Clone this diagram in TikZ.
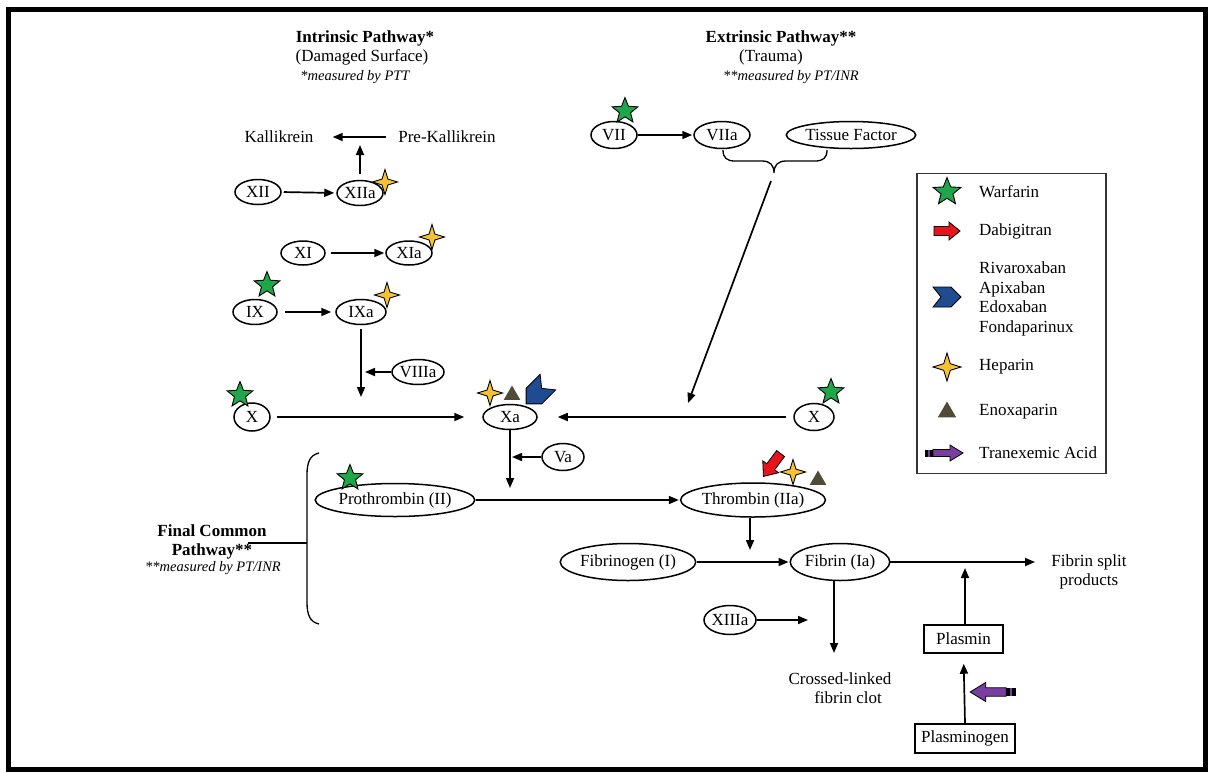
\documentclass[tikz,border=0pt]{standalone}
\usepackage{fontspec}
\setmainfont{Liberation Serif}
\usetikzlibrary{shapes.geometric,arrows.meta}
\definecolor{warfgreen}{HTML}{1FA64A}
\definecolor{hepyellow}{HTML}{F7C232}
\definecolor{enoxolive}{HTML}{4F4B36}
\definecolor{chevblue}{HTML}{1F4C90}
\definecolor{dabred}{HTML}{E8141C}
\definecolor{txapurple}{HTML}{7A3DA2}
\newcommand\mfont{\fontsize{17}{19.5}\selectfont}
\newcommand\ifont{\fontsize{14.5}{17}\selectfont\itshape}
\begin{document}
\begin{tikzpicture}[x=1pt,y=-1pt]
\tikzset{
 ell/.style={ellipse, draw, line width=1.5pt, inner sep=0pt, font=\mfont},
 bx/.style={rectangle, draw, line width=1.5pt, inner sep=0pt, font=\mfont},
 lbl/.style={inner sep=0pt, font=\mfont, align=center},
 ilbl/.style={inner sep=0pt, font=\ifont, align=center},
 con/.style={line width=1.7pt, -{Triangle[length=10pt,width=8pt]}},
 warf/.style={star, star points=5, star point ratio=2.3, minimum size=27pt, inner sep=0pt, draw, line width=0.9pt, fill=warfgreen},
 hep/.style={star, star points=4, star point ratio=3.0, minimum size=25pt, inner sep=0pt, draw, line width=0.9pt, fill=hepyellow},
 enox/.style={regular polygon, regular polygon sides=3, minimum size=19pt, inner sep=0pt, fill=enoxolive},
 dab/.pic={\filldraw[fill=dabred, line width=0.8pt] (-13,-4.5) -- (2,-4.5) -- (2,-9) -- (13,0) -- (2,9) -- (2,4.5) -- (-13,4.5) -- cycle;},
 chev/.pic={\filldraw[fill=chevblue, line width=0.8pt] (-14,-10) -- (4,-10) -- (14,0) -- (4,10) -- (-14,10) -- (-6,0) -- cycle;},
 txa/.pic={\fill[black] (-19,-3.5) rectangle (-11,3.5);
   \fill[txapurple] (-16,-3.5) rectangle (-14.5,3.5);
   \filldraw[fill=txapurple, line width=0.8pt] (-11,-3.5) -- (6,-3.5) -- (6,-8) -- (19,0) -- (6,8) -- (6,3.5) -- (-11,3.5) -- cycle;},
}
\useasboundingbox (0,0) rectangle (1213,772);
\draw[line width=5pt] (8.5,9) rectangle (1205.5,769.5);

% headers
\node[lbl, font=\mfont\bfseries] (ih1) at (365,38) {Intrinsic Pathway*};
\node[lbl] (ih2) at (362,57) {(Damaged Surface)};
\node[ilbl] (ih3) at (355,77) {*measured by PTT};
\node[lbl, font=\mfont\bfseries] (eh1) at (781,38) {Extrinsic Pathway**};
\node[lbl] (eh2) at (771,57) {(Trauma)};
\node[ilbl] (eh3) at (791,77) {**measured by PT/INR};

% intrinsic
\node[lbl] (kal) at (279,137) {Kallikrein};
\node[lbl] (prek) at (447,137) {Pre-Kallikrein};
\coordinate (kl) at (360,137);
\node[ell, minimum width=46pt, minimum height=25pt] (xii) at (258,192) {XII};
\node[ell, minimum width=46pt, minimum height=25pt] (xiia) at (360,193) {XIIa};
\node[ell, minimum width=44pt, minimum height=24pt] (xi) at (303,253) {XI};
\node[ell, minimum width=46pt, minimum height=24pt] (xia) at (409,253) {XIa};
\node[ell, minimum width=44pt, minimum height=25pt] (ix) at (255,312) {IX};
\node[ell, minimum width=50pt, minimum height=25pt] (ixa) at (361,312) {IXa};
\node[ell, minimum width=52pt, minimum height=25pt] (viiia) at (418,372) {VIIIa};
\node[ell, minimum width=36pt, minimum height=28pt] (xl) at (252,417) {X};
\node[ell, minimum width=54pt, minimum height=25pt] (xa) at (510,417) {Xa};
\node[ell, minimum width=40pt, minimum height=27pt] (xr) at (814,417) {X};
\node[ell, minimum width=42pt, minimum height=27pt] (va) at (563,457) {Va};

% extrinsic
\node[ell, minimum width=46pt, minimum height=27pt] (vii) at (614,135) {VII};
\node[ell, minimum width=56pt, minimum height=27pt] (viia) at (722,135) {VIIa};
\node[ell, minimum width=114pt, minimum height=27pt] (tf) at (851,135) {Tissue Factor};

% common
\node[ell, minimum width=128pt, minimum height=33pt] (pro) at (395,500) {Prothrombin (II)};
\node[ell, minimum width=134pt, minimum height=34pt] (thr) at (753,500) {Thrombin (IIa)};
\node[ell, minimum width=134pt, minimum height=37pt] (fbg) at (628,562) {Fibrinogen (I)};
\node[ell, minimum width=90pt, minimum height=37pt] (fbn) at (840,562) {Fibrin (Ia)};
\node[ell, minimum width=46pt, minimum height=29pt] (xiiia) at (730,620) {XIIIa};
\node[lbl] (clot) at (840,688) {Crossed-linked\\\hspace*{16pt}fibrin clot};
\node[lbl] (fsp) at (1089,572) {Fibrin split\\products};
\node[bx, minimum width=79pt, minimum height=28pt] (plasmin) at (963.5,639) {Plasmin};
\node[bx, minimum width=100pt, minimum height=29pt] (plg) at (965,738.5) {Plasminogen};

\node[lbl, font=\mfont\bfseries] (fcp) at (212,542) {Final Common\\Pathway**};
\node[ilbl] (fcp2) at (213,568) {**measured by PT/INR};

% junction coordinates
\coordinate (j1) at (361,397);
\coordinate (j2) at (361,372);
\coordinate (j3) at (510,488);
\coordinate (j4) at (510,457);
\coordinate (j5) at (750,550);
\coordinate (j6) at (834,653);
\coordinate (j7) at (808,620);
\coordinate (j8) at (1035,562);
\coordinate (j9) at (965,568);
\coordinate (brtip) at (771,181);
\coordinate (brhit) at (688,403);
\coordinate (fcpl) at (248,543);
\coordinate (fcpb) at (307,543);

% connectors
\draw[con, shorten <=12pt, shorten >=19pt] (prek.west) -- (kal.east);
\draw[con, shorten <=6pt, shorten >=8pt] (xiia.north) -- (kl);
\draw[con, shorten <=2pt, shorten >=2pt] (xii.east) -- (xiia.west);
\draw[con, shorten <=5pt, shorten >=1pt] (xi.east) -- (xia.west);
\draw[con, shorten <=7pt, shorten >=4pt] (ix.east) -- (ixa.west);
\draw[con, shorten <=4pt] (ixa.south) -- (j1);
\draw[con, shorten >=4pt] (viiia.west) -- (j2);
\draw[con, shorten <=6pt, shorten >=18pt] (xl.east) -- (xa.west);
\draw[con, shorten <=7pt, shorten >=20pt] (xr.west) -- (xa.east);
\draw[con] (xa.south) -- (j3);
\draw[con, shorten >=2pt] (va.west) -- (j4);
\draw[con, shorten >=1pt] (vii.east) -- (viia.west);
\draw[con, shorten >=1pt] (pro.east) -- (thr.west);
\draw[con] (j5 |- thr.south) -- (j5);
\draw[con, shorten >=1pt] (fbg.east) -- (fbn.west);
\draw[con] (j6 |- fbn.south) -- (j6);
\draw[con] (xiiia.east) -- (j7);
\draw[con] (fbn.east) -- (j8);
\draw[con] (plasmin.north -| j9) -- (j9);
\draw[con, shorten >=10pt] (plg.north) -- (plasmin.south);
\draw[con] (brtip) -- (brhit);
\draw[line width=1.3pt] (fcpl) -- (fcpb);

% braces
\draw[line width=1.3pt] (723,150) .. controls (723,158) and (727,161) .. (735,161) -- (762,161) .. controls (770,161) and (774,165) .. (774,173) .. controls (774,165) and (778,161) .. (786,161) -- (815,161) .. controls (823,161) and (827,158) .. (827,150);
\draw[line width=1.3pt] (319,453) .. controls (310,455) and (307,462) .. (307,475) -- (307,602) .. controls (307,615) and (310,622) .. (319,624);

% drug markers on nodes
\node[hep] (h1) at (385,182) {};
\node[hep] (h2) at (432,237) {};
\node[warf] (w1) at (267,285) {};
\node[hep] (h3) at (387,295) {};
\node[warf] (w2) at (240,395) {};
\node[hep] (h4) at (490,393) {};
\node[enox] (e1) at (512,395) {};
\pic[rotate=225, scale=1.1] at (537,393) {chev};
\node[warf] (w3) at (831,392) {};
\node[warf] (w4) at (625,111) {};
\node[warf] (w5) at (350,478) {};
\pic[rotate=233, scale=1.1] at (772,465) {dab};
\node[hep] (h5) at (793,472) {};
\node[enox] (e2) at (818,480) {};
\pic[rotate=180, scale=1.2] at (993,692) {txa};

% legend
\node[draw, line width=1.3pt, draw=black!80, minimum width=189pt, minimum height=300pt, inner sep=0pt] (legend) at (1011.5,323.5) {};
\node[warf, minimum size=29pt] (lw) at (947,192) {};
\node[lbl, anchor=west] (lwt) at (979,192) {Warfarin};
\pic at (947,231) {dab};
\node[lbl, anchor=west] (ldt) at (979,231) {Dabigitran};
\pic at (947,297) {chev};
\node[lbl, anchor=west, align=left] (lct) at (979,299) {Rivaroxaban\\Apixaban\\Edoxaban\\Fondaparinux};
\node[hep, minimum size=28pt] (lh) at (947,367) {};
\node[lbl, anchor=west] (lht) at (979,367) {Heparin};
\node[enox, minimum size=21pt] (le) at (947,412) {};
\node[lbl, anchor=west] (let) at (979,412) {Enoxaparin};
\pic at (944,453) {txa};
\node[lbl, anchor=west] (ltt) at (979,453) {Tranexemic Acid};
\end{tikzpicture}
\end{document}
